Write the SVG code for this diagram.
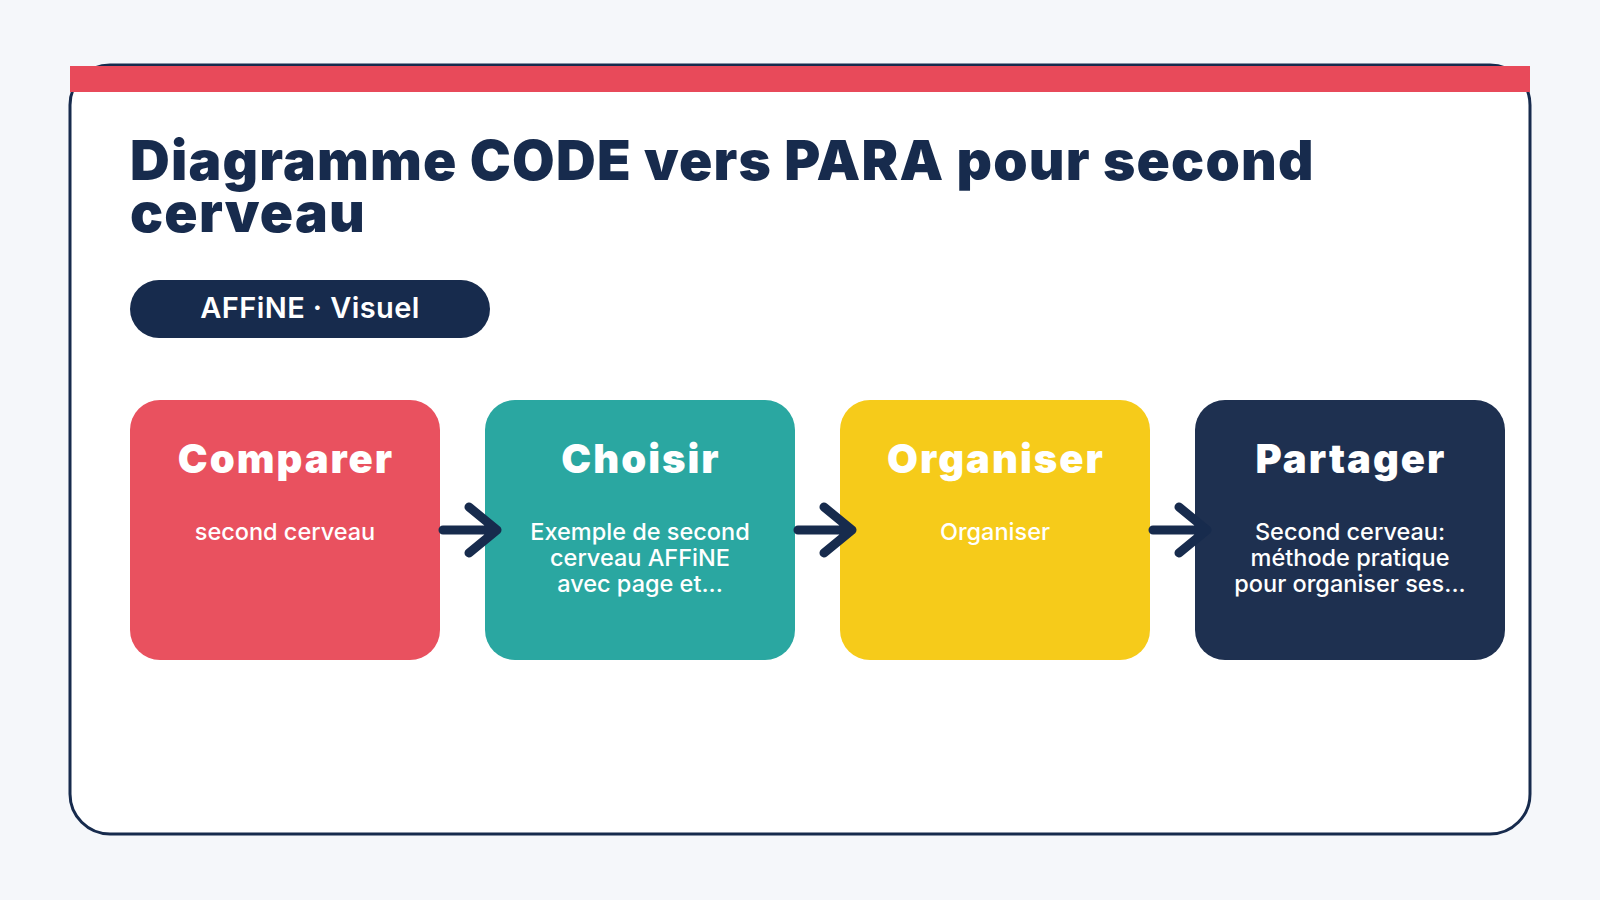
<svg xmlns="http://www.w3.org/2000/svg" width="1600" height="900" viewBox="0 0 1600 900">
<defs>
<style>
.title{font-family:Inter,"Liberation Sans",sans-serif;font-weight:900;font-size:55px;letter-spacing:1.2px;fill:#172B4D}
.pill{font-family:Inter,"Liberation Sans",sans-serif;font-weight:600;font-size:29px;letter-spacing:0.4px;fill:#ffffff}
.nt{font-family:Inter,"Liberation Sans",sans-serif;font-weight:900;font-size:40px;letter-spacing:2px;fill:#ffffff;text-anchor:middle}
.ns{font-family:Inter,"Liberation Sans",sans-serif;font-weight:500;font-size:23.5px;fill:#ffffff;text-anchor:middle}
.conn{fill:none;stroke:#172B4D;stroke-width:9;stroke-linecap:round;stroke-linejoin:round}
</style>
</defs>
<rect width="1600" height="900" fill="#F5F7FA"/>
<g id="card">
<rect x="70" y="65" width="1460" height="769" rx="40" fill="#ffffff" stroke="#172B4D" stroke-width="3"/>
<rect x="70" y="66" width="1460" height="26" fill="#E84A5A"/>
</g>
<g id="title">
<text class="title" x="130" y="180">Diagramme CODE vers PARA pour second</text>
<text class="title" x="130" y="232">cerveau</text>
</g>
<g id="badge">
<rect x="130" y="280" width="360" height="58" rx="29" fill="#172B4D"/>
<text class="pill" x="310" y="318" text-anchor="middle">AFFiNE · Visuel</text>
</g>
<g id="node-comparer">
<rect x="130" y="400" width="310" height="260" rx="30" fill="#E9515F"/>
<text class="nt" x="286" y="473">Comparer</text>
<text class="ns" x="285" y="540">second cerveau</text>
</g>
<g id="node-choisir">
<rect x="485" y="400" width="310" height="260" rx="30" fill="#2AA7A1"/>
<text class="nt" x="641" y="473">Choisir</text>
<text class="ns" x="640" y="540">Exemple de second</text>
<text class="ns" x="640" y="566">cerveau AFFiNE</text>
<text class="ns" x="640" y="592">avec page et...</text>
</g>
<g id="node-organiser">
<rect x="840" y="400" width="310" height="260" rx="30" fill="#F6CB1A"/>
<text class="nt" x="996" y="473">Organiser</text>
<text class="ns" x="995" y="540">Organiser</text>
</g>
<g id="node-partager">
<rect x="1195" y="400" width="310" height="260" rx="30" fill="#1E3050"/>
<text class="nt" x="1351" y="473">Partager</text>
<text class="ns" x="1350" y="540">Second cerveau:</text>
<text class="ns" x="1350" y="566">méthode pratique</text>
<text class="ns" x="1350" y="592">pour organiser ses...</text>
</g>
<g id="connectors">
<path class="conn" d="M443 530 H497 M469 507 L497 530 L469 553"/>
<path class="conn" d="M798 530 H852 M824 507 L852 530 L824 553"/>
<path class="conn" d="M1153 530 H1207 M1179 507 L1207 530 L1179 553"/>
</g>
</svg>
